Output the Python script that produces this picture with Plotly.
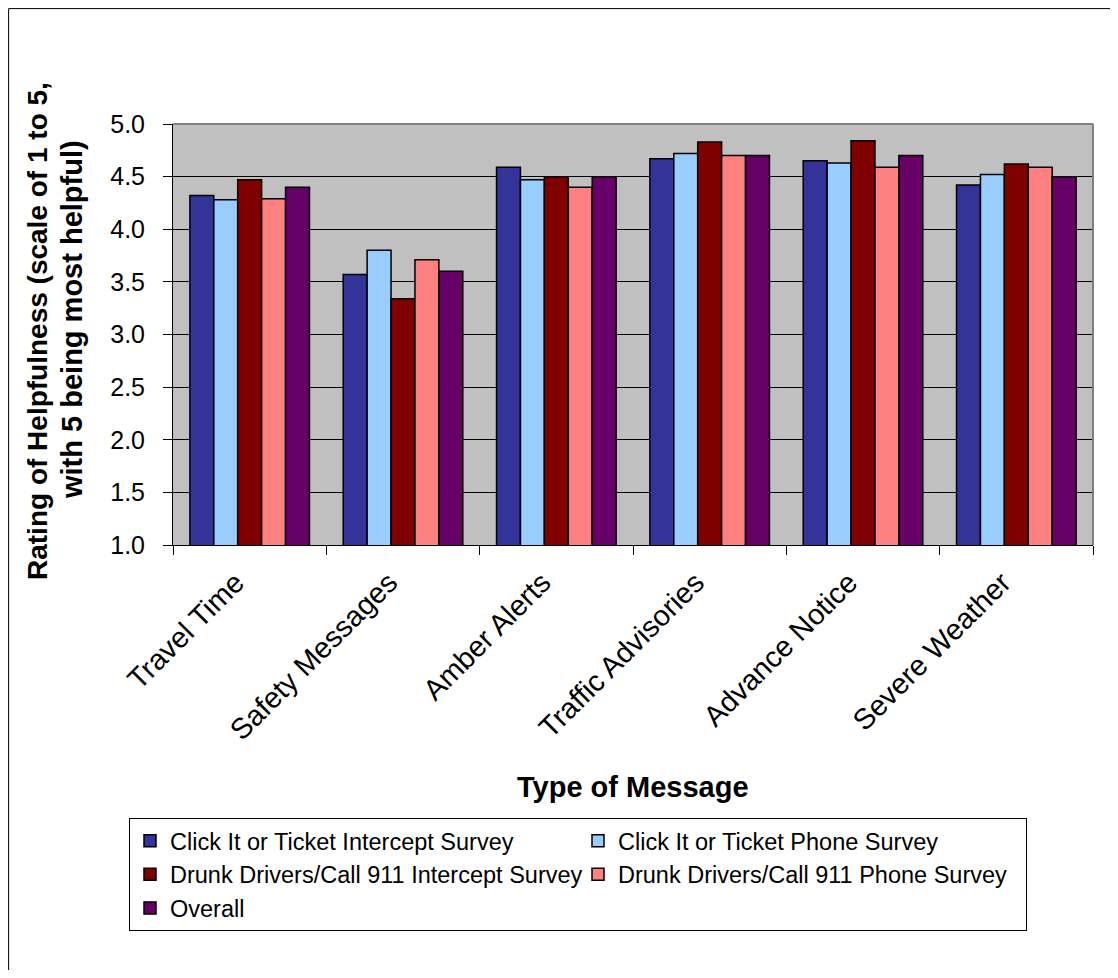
import plotly.graph_objects as go

categories = ["Travel Time", "Safety Messages", "Amber Alerts",
              "Traffic Advisories", "Advance Notice", "Severe Weather"]

click_intercept = [4.32, 3.57, 4.59, 4.67, 4.65, 4.42]
click_phone = [4.28, 3.80, 4.47, 4.72, 4.63, 4.52]
drunk_intercept = [4.47, 3.34, 4.50, 4.83, 4.84, 4.62]
drunk_phone = [4.29, 3.71, 4.40, 4.70, 4.59, 4.59]
overall = [4.40, 3.60, 4.50, 4.70, 4.70, 4.50]

series_names = ["Click It or Ticket Intercept Survey",
                "Click It or Ticket Phone Survey",
                "Drunk Drivers/Call 911 Intercept Survey",
                "Drunk Drivers/Call 911 Phone Survey",
                "Overall"]
series_values = [click_intercept, click_phone, drunk_intercept, drunk_phone, overall]
colors = ["#333399", "#99CCFF", "#800000", "#FF8080", "#660066"]

y_ticks = [1.0, 1.5, 2.0, 2.5, 3.0, 3.5, 4.0, 4.5, 5.0]
y_tick_text = ["1.0", "1.5", "2.0", "2.5", "3.0", "3.5", "4.0", "4.5", "5.0"]

FONT = "Arial, Liberation Sans, sans-serif"

fig = go.Figure()
for name, vals, col in zip(series_names, series_values, colors):
    fig.add_trace(go.Bar(
        x=categories, y=vals, name=name,
        marker=dict(color=col, line=dict(color="#000000", width=1.5)),
    ))

# page is offset by the 8px body margin
OFF = 8
W, H = 1102, 962
ml, mt = 165, 116
pw, ph = 920, 421
mr = W - ml - pw
mb = H - mt - ph

def px(x):
    """page x -> paper x"""
    return (x - OFF - ml) / pw

def py(y):
    """page y -> paper y"""
    return (mt + ph - (y - OFF)) / ph

fig.update_layout(
    width=W, height=H,
    margin=dict(l=ml, r=mr, t=mt, b=mb, autoexpand=False),
    paper_bgcolor="white",
    plot_bgcolor="#C0C0C0",
    barmode="group",
    bargap=0.22,
    bargroupgap=0.0,
    font=dict(family=FONT, color="black"),
    showlegend=True,
    legend=dict(
        orientation="h",
        x=px(129), y=py(818), xanchor="left", yanchor="top",
        xref="paper", yref="paper",
        bordercolor="#000000", borderwidth=1,
        bgcolor="white",
        font=dict(family=FONT, size=23.5, color="black"),
        entrywidth=403, entrywidthmode="pixels",
        traceorder="normal",
    ),
    xaxis=dict(
        type="category",
        showgrid=False,
        showline=True, linecolor="#000000", linewidth=1,
        ticks="outside", ticklen=9, tickcolor="#000000",
        tickson="boundaries",
        tickangle=-45,
        tickfont=dict(family=FONT, size=29, color="black"),
        ticklabelshift=-14,
        ticklabelstandoff=8,
        fixedrange=True,
    ),
    yaxis=dict(
        range=[1.0, 5.0],
        tickvals=y_ticks, ticktext=y_tick_text,
        showgrid=True, gridcolor="#000000", gridwidth=1,
        showline=True, linecolor="#000000", linewidth=1,
        ticks="outside", ticklen=9, tickcolor="#000000",
        tickfont=dict(family=FONT, size=25, color="black"),
        ticklabelstandoff=13,
        zeroline=False,
        fixedrange=True,
    ),
)

# y-axis title (two lines)
fig.add_annotation(text="<b>Rating of Helpfulness (scale of 1 to 5,</b>",
                   xref="paper", yref="paper", x=px(37), y=py(331),
                   textangle=-90, showarrow=False, xanchor="center", yanchor="middle",
                   font=dict(family=FONT, size=28, color="black"))
fig.add_annotation(text="<b>with 5 being most helpful)</b>",
                   xref="paper", yref="paper", x=px(72), y=py(320),
                   textangle=-90, showarrow=False, xanchor="center", yanchor="middle",
                   font=dict(family=FONT, size=29, color="black"))
# x-axis title
fig.add_annotation(text="<b>Type of Message</b>",
                   xref="paper", yref="paper", x=0.5, y=py(787),
                   showarrow=False, xanchor="center", yanchor="middle",
                   font=dict(family=FONT, size=29, color="black"))

# plot area gray border (top and right)
fig.add_shape(type="line", xref="paper", yref="paper", x0=0, x1=1, y0=1, y1=1,
              line=dict(color="#808080", width=2), layer="above")
fig.add_shape(type="line", xref="paper", yref="paper", x0=1, x1=1, y0=0, y1=1,
              line=dict(color="#808080", width=2), layer="above")
# outer chart border (left and top visible)
x_edge = -ml / pw + 0.6 / pw
y_top = (mt + ph - 0.6) / ph
fig.add_shape(type="line", xref="paper", yref="paper", x0=x_edge, x1=x_edge, y0=y_top, y1=-mb / ph,
              line=dict(color="#000000", width=1), layer="above")
fig.add_shape(type="line", xref="paper", yref="paper", x0=x_edge, x1=(W - ml) / pw, y0=y_top, y1=y_top,
              line=dict(color="#000000", width=1), layer="above")

fig.write_html("out.html")
